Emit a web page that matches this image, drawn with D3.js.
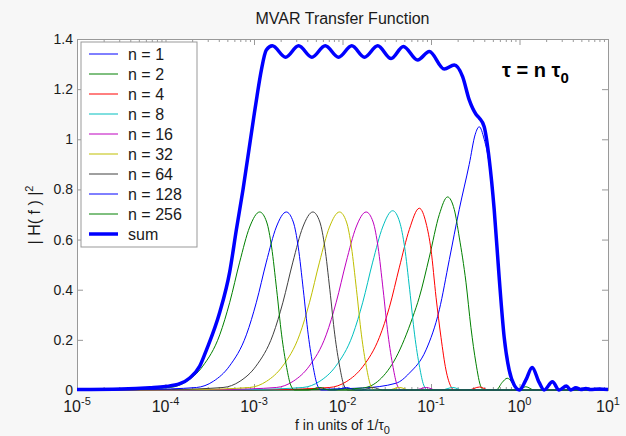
<!DOCTYPE html>
<html>
<head>
<meta charset="utf-8">
<script src="https://cdn.jsdelivr.net/npm/d3@7"></script>
<style>
body { margin: 0; background: #f7f7f7; }
svg { display: block; font-family: "Liberation Sans", Arial, sans-serif; }
</style>
</head>
<body>
<svg id="chart" width="626" height="436"></svg>
<script>
// x values are log10(f), f in units of 1/tau0 ; y values are |H(f)|^2
var n1F = [-3.5, -2.5, -1.775, -1.395, -1.245, -1.056, -0.906, -0.793, -0.681, -0.568, -0.500, -0.455, -0.399, -0.342, -0.286, -0.230, -0.173, -0.117, -0.060, 0.0, 0.072, 0.143, 0.222, 0.278, 0.368, 0.447, 0.526, 0.579, 0.636, 0.695, 0.75, 0.8, 0.9, 1.0];
var n1H = [0, 0.002, 0.008, 0.027, 0.067, 0.16, 0.32, 0.52, 0.72, 0.90, 1.02, 1.05, 1.00, 0.90, 0.71, 0.44, 0.20, 0.07, 0.015, 0, 0.04, 0.085, 0.03, 0, 0.03, 0, 0.015, 0, 0.008, 0, 0.005, 0, 0.003, 0];

var n2F = [-5.0, -3.0, -2.147, -1.771, -1.583, -1.395, -1.207, -1.132, -1.019, -0.906, -0.813, -0.737, -0.681, -0.605, -0.549, -0.492, -0.436, -0.399, -0.263, -0.196, -0.139, -0.083, -0.027, 0.072, 0.165, 1.0];
var n2H = [0, 0, 0.002, 0.008, 0.04, 0.13, 0.29, 0.37, 0.53, 0.70, 0.77, 0.72, 0.61, 0.43, 0.25, 0.107, 0.013, 0, 0, 0.03, 0.047, 0.03, 0, 0.013, 0, 0];

var n4F = [-5.0, -4.0, -2.75, -2.147, -1.958, -1.771, -1.583, -1.470, -1.357, -1.245, -1.132, -1.056, -1.000, -0.943, -0.887, -0.831, -0.774, -0.737, -0.58, -0.45, -0.35, 1.0];
var n4H = [0, 0, 0.002, 0.01, 0.033, 0.093, 0.21, 0.33, 0.49, 0.64, 0.725, 0.666, 0.56, 0.37, 0.21, 0.08, 0.013, 0, 0, 0.012, 0, 0];

var n8F = [-5.0, -3.933, -3.033, -2.448, -2.256, -2.076, -1.884, -1.771, -1.659, -1.546, -1.433, -1.354, -1.298, -1.241, -1.185, -1.128, -1.083, -1.038, -0.883, -0.753, -0.647, 1.0];
var n8H = [0, 0, 0.002, 0.01, 0.035, 0.095, 0.22, 0.35, 0.51, 0.65, 0.715, 0.67, 0.57, 0.40, 0.22, 0.09, 0.02, 0, 0, 0.01, 0, 0];

var n16F = [-5.0, -4.233, -3.333, -2.748, -2.556, -2.376, -2.184, -2.071, -1.959, -1.846, -1.733, -1.654, -1.598, -1.541, -1.485, -1.428, -1.383, -1.338, -1.183, -1.053, -0.947, 1.0];
var n16H = [0, 0, 0.002, 0.01, 0.035, 0.095, 0.22, 0.35, 0.51, 0.65, 0.71, 0.67, 0.57, 0.40, 0.22, 0.09, 0.02, 0, 0, 0.01, 0, 0];

var n32F = [-5.0, -4.534, -3.634, -3.049, -2.857, -2.677, -2.485, -2.372, -2.260, -2.147, -2.034, -1.955, -1.899, -1.842, -1.786, -1.729, -1.684, -1.639, -1.484, -1.354, -1.248, 1.0];
var n32H = [0, 0, 0.002, 0.01, 0.035, 0.095, 0.22, 0.35, 0.51, 0.65, 0.71, 0.67, 0.57, 0.40, 0.22, 0.09, 0.02, 0, 0, 0.01, 0, 0];

var n64F = [-5.0, -4.835, -3.935, -3.350, -3.158, -2.978, -2.786, -2.673, -2.561, -2.448, -2.335, -2.256, -2.200, -2.143, -2.087, -2.030, -1.985, -1.940, -1.785, -1.655, -1.549, 1.0];
var n64H = [0, 0, 0.002, 0.01, 0.035, 0.095, 0.22, 0.35, 0.51, 0.65, 0.71, 0.67, 0.57, 0.40, 0.22, 0.09, 0.02, 0, 0, 0.01, 0, 0];

var n128F = [-5.0, -4.235, -3.650, -3.458, -3.278, -3.086, -2.973, -2.861, -2.748, -2.635, -2.556, -2.500, -2.443, -2.387, -2.330, -2.285, -2.240, -2.085, -1.955, -1.849, 1.0];
var n128H = [0.0003, 0.002, 0.01, 0.035, 0.095, 0.22, 0.35, 0.51, 0.65, 0.71, 0.67, 0.57, 0.40, 0.22, 0.09, 0.02, 0, 0, 0.01, 0, 0];

var n256F = [-5.0, -4.536, -3.951, -3.759, -3.579, -3.387, -3.274, -3.162, -3.049, -2.936, -2.857, -2.801, -2.744, -2.688, -2.631, -2.586, -2.541, -2.386, -2.256, -2.150, 1.0];
var n256H = [0.001, 0.002, 0.01, 0.035, 0.095, 0.22, 0.35, 0.51, 0.65, 0.71, 0.67, 0.57, 0.40, 0.22, 0.09, 0.02, 0, 0, 0.01, 0, 0];

var sumF = [-5.0, -4.5, -4.177, -4.0, -3.838, -3.726, -3.613, -3.537, -3.387, -3.275, -3.199, -3.124, -3.004, -2.967, -2.917, -2.861, -2.793, -2.643, -2.496, -2.346, -2.195, -2.045, -1.895, -1.752, -1.602, -1.451, -1.312, -1.151, -1.019, -0.850, -0.737, -0.643, -0.568, -0.492, -0.455, -0.399, -0.342, -0.286, -0.230, -0.173, -0.117, -0.060, 0.0, 0.072, 0.143, 0.222, 0.278, 0.372, 0.447, 0.530, 0.579, 0.636, 0.695, 0.75, 0.8, 0.9, 1.0];
var sumH = [0.002, 0.004, 0.009, 0.014, 0.025, 0.048, 0.095, 0.16, 0.31, 0.47, 0.64, 0.80, 1.085, 1.17, 1.276, 1.356, 1.373, 1.327, 1.373, 1.327, 1.373, 1.327, 1.373, 1.327, 1.373, 1.322, 1.37, 1.316, 1.35, 1.28, 1.296, 1.25, 1.157, 1.10, 1.085, 1.05, 0.92, 0.72, 0.45, 0.21, 0.08, 0.02, 0, 0.04, 0.09, 0.03, 0, 0.033, 0, 0.016, 0, 0.009, 0.002, 0.006, 0.002, 0.004, 0.002];

var labels = ["n = 1", "n = 2", "n = 4", "n = 8", "n = 16", "n = 32", "n = 64", "n = 128", "n = 256", "sum"];
var colors = ["#0000ff", "#008000", "#ff0000", "#00bfbf", "#bf00bf", "#bfbf00", "#404040", "#0000ff", "#008000", "#0000ff"];
var yTicks = [0, 0.2, 0.4, 0.6, 0.8, 1, 1.2, 1.4];
var xDecades = [-5, -4, -3, -2, -1, 0, 1];

var seriesF = [n1F, n2F, n4F, n8F, n16F, n32F, n64F, n128F, n256F, sumF];
var seriesH = [n1H, n2H, n4H, n8H, n16H, n32H, n64H, n128H, n256H, sumH];

var margin = { top: 39, right: 18, bottom: 46, left: 77 },
    width = 626 - margin.left - margin.right,
    height = 436 - margin.top - margin.bottom;

var svg = d3.select("#chart");

var xScale = d3.scaleLog().domain([1e-5, 10]).range([0, width]);
var yScale = d3.scaleLinear().domain([0, 1.4]).range([height, 0]);

var g = svg.append("g").attr("transform", "translate(" + margin.left + "," + margin.top + ")");

// plot area
g.append("rect").attr("width", width).attr("height", height).attr("fill", "#ffffff");

var majors = xDecades.map(function (e) { return Math.pow(10, e); });
var minors = [];
xDecades.slice(0, -1).forEach(function (e) {
    for (var k = 2; k <= 9; k++) minors.push(k * Math.pow(10, e));
});

function styleAxis(sel) {
    sel.selectAll("path.domain").attr("stroke", "#999");
    sel.selectAll(".tick line").attr("stroke", "#999");
    sel.selectAll(".tick text").attr("fill", "#1a1a1a").style("font-size", "14px")
        .style("font-family", '"Liberation Sans", Arial, sans-serif');
}

g.append("g").attr("transform", "translate(0," + height + ")")
    .call(d3.axisBottom(xScale).tickValues(minors).tickSize(-3).tickSizeOuter(0).tickFormat(""))
    .call(styleAxis);
g.append("g").attr("transform", "translate(0," + height + ")")
    .call(d3.axisBottom(xScale).tickValues(majors).tickSize(-6).tickSizeOuter(0).tickFormat(""))
    .call(styleAxis);
g.append("g")
    .call(d3.axisTop(xScale).tickValues(minors).tickSize(-3).tickSizeOuter(0).tickFormat(""))
    .call(styleAxis);
g.append("g")
    .call(d3.axisTop(xScale).tickValues(majors).tickSize(-6).tickSizeOuter(0).tickFormat(""))
    .call(styleAxis);
g.append("g")
    .call(d3.axisLeft(yScale).tickValues(yTicks).tickSize(-6).tickSizeOuter(0).tickPadding(4).tickFormat(function (d) { return String(d); }))
    .call(styleAxis);
g.append("g").attr("transform", "translate(" + width + ",0)")
    .call(d3.axisRight(yScale).tickValues(yTicks).tickSize(-6).tickSizeOuter(0).tickFormat(""))
    .call(styleAxis);

// x tick labels 10^e
xDecades.forEach(function (e) {
    var t = g.append("text")
        .attr("x", xScale(Math.pow(10, e)))
        .attr("y", height + 22)
        .attr("text-anchor", "middle")
        .attr("fill", "#1a1a1a")
        .style("font-size", "16px");
    t.append("tspan").text("10");
    t.append("tspan").attr("dy", -7).style("font-size", "11px").text(e);
});

// curves
var line = d3.line()
    .x(function (d) { return xScale(Math.pow(10, d[0])); })
    .y(function (d) { return yScale(d[1]); })
    .curve(d3.curveMonotoneX);

seriesF.forEach(function (fs, i) {
    var pts = fs.map(function (f, j) { return [f, seriesH[i][j]]; });
    g.append("path")
        .datum(pts)
        .attr("fill", "none")
        .attr("stroke", colors[i])
        .attr("stroke-width", i == 9 ? 3.5 : 1)
        .attr("stroke-linejoin", "round")
        .attr("d", line);
});

// legend
var leg = svg.append("g").attr("transform", "translate(81,42)");
leg.append("rect").attr("width", 116).attr("height", 205)
    .attr("fill", "#ffffff").attr("stroke", "#999");
labels.forEach(function (lab, i) {
    var yy = 12 + i * 20;
    leg.append("line").attr("x1", 8).attr("x2", 37).attr("y1", yy).attr("y2", yy)
        .attr("stroke", colors[i]).attr("stroke-width", i == 9 ? 3.5 : 1);
    leg.append("text").attr("x", 47).attr("y", yy + 6)
        .attr("fill", "#1a1a1a").style("font-size", "16px").text(lab);
});

// title and labels
svg.append("text").attr("x", margin.left + width / 2).attr("y", 24)
    .attr("text-anchor", "middle").attr("fill", "#1a1a1a").style("font-size", "16px")
    .text("MVAR Transfer Function");

var xl = svg.append("text").attr("x", margin.left + width / 2).attr("y", 430)
    .attr("text-anchor", "middle").attr("fill", "#1a1a1a").style("font-size", "14px");
xl.append("tspan").text("f in units of 1/τ");
xl.append("tspan").attr("dy", 4).style("font-size", "11px").text("0");

var yl = svg.append("text").attr("transform", "translate(40,215) rotate(-90)")
    .attr("text-anchor", "middle").attr("fill", "#1a1a1a").style("font-size", "16px");
yl.append("tspan").text("| H( f ) |");
yl.append("tspan").attr("dy", -7).style("font-size", "11px").text("2");

var ann = svg.append("text").attr("x", 502).attr("y", 77)
    .attr("fill", "#000").style("font-size", "20px").style("font-weight", "bold");
ann.append("tspan").text("τ = n τ");
ann.append("tspan").attr("dy", 6).style("font-size", "15px").text("0");
</script>
</body>
</html>
